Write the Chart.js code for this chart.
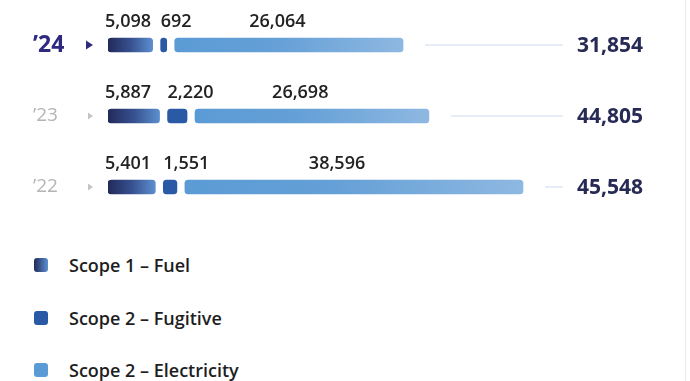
<!DOCTYPE html>
<html>
<head>
<meta charset="utf-8">
<script src="https://cdn.jsdelivr.net/npm/chart.js@4.4.1/dist/chart.umd.min.js"></script>
<style>
	html, body { margin: 0; padding: 0; background: #fff; }
	.wrap { position: relative; width: 685px; height: 381px; border-right: 1px solid #ececec; }
	.chart-box { position: relative; width: 685px; height: 235px; }
	.tc-chart-js-legend { position: absolute; left: 34px; top: 258px; margin: 0; padding: 0; list-style: none;
		font-family: "Open Sans", sans-serif; font-weight: 600; font-size: 18px; color: #1e1e1e; }
	.tc-chart-js-legend li { display: flex; align-items: center; height: 14px; margin-bottom: 38.5px; }
	.tc-chart-js-legend li span { display: inline-block; width: 14px; height: 14px; border-radius: 3px; margin-right: 21px; }
</style>
</head>
<body>
<div class="wrap">
	<div class="chart-box"><canvas id="barChart"></canvas></div>
	<ul class="tc-chart-js-legend" id="barLegend"></ul>
</div>
<script>
var years = ["\u201924", "\u201923", "\u201922"];
var fuel = [5098, 5887, 5401];
var fugitive = [692, 2220, 1551];
var electricity = [26064, 26698, 38596];
var totals = [31854, 44805, 45548];
var seriesNames = ["Scope 1 \u2013 Fuel", "Scope 2 \u2013 Fugitive", "Scope 2 \u2013 Electricity"];

var GAP = 8;
var FONT = '"Open Sans", sans-serif';

var Charts = function () {
	"use strict";

	// pixel span of one stacked segment, including the gap offset
	var segSpan = function (chart, d, i) {
		var x = chart.scales.x;
		var start = 0;
		for (var k = 0; k < d; k++) {
			start += chart.data.datasets[k].data[i];
		}
		var end = start + chart.data.datasets[d].data[i];
		return [x.getPixelForValue(start) + d * GAP, x.getPixelForValue(end) + d * GAP];
	};

	var fuelFill = function (ctx) {
		var chart = ctx.chart;
		if (!chart.chartArea || ctx.dataIndex === undefined) return "#3a5590";
		var s = segSpan(chart, ctx.datasetIndex, ctx.dataIndex);
		var g = chart.ctx.createLinearGradient(s[0], 0, s[1], 0);
		g.addColorStop(0, "#222a5a");
		g.addColorStop(0.5, "#37508f");
		g.addColorStop(1, "#5c8fcf");
		return g;
	};

	var electricityFill = function (ctx) {
		var chart = ctx.chart;
		if (!chart.chartArea || ctx.dataIndex === undefined) return "#5b9bd5";
		var s = segSpan(chart, ctx.datasetIndex, ctx.dataIndex);
		var g = chart.ctx.createLinearGradient(s[0], 0, s[1], 0);
		g.addColorStop(0, "#5b9bd5");
		g.addColorStop(0.45, "#65a0d7");
		g.addColorStop(1, "#8eb8e1");
		return g;
	};

	// push each series right so the segments sit apart
	var segmentGap = {
		id: "segmentGap",
		afterDatasetsUpdate: function (chart) {
			chart.data.datasets.forEach(function (ds, d) {
				chart.getDatasetMeta(d).data.forEach(function (bar) {
					bar.x += d * GAP;
					bar.base += d * GAP;
				});
			});
		}
	};

	var rowDecor = {
		id: "rowDecor",
		afterDatasetsDraw: function (chart) {
			var c = chart.ctx;
			var area = chart.chartArea;
			var metas = [0, 1, 2].map(function (d) { return chart.getDatasetMeta(d); });
			c.save();
			years.forEach(function (y, i) {
				var cy = metas[0].data[i].y;

				// small marker triangle beside the year
				c.beginPath();
				if (i === 0) {
					c.fillStyle = "#2e2a80";
					c.moveTo(area.left - 22, cy - 4.5);
					c.lineTo(area.left - 22, cy + 4.5);
					c.lineTo(area.left - 15, cy);
				} else {
					c.fillStyle = "#c4c4c4";
					c.moveTo(area.left - 20, cy - 3.5);
					c.lineTo(area.left - 20, cy + 3.5);
					c.lineTo(area.left - 15, cy);
				}
				c.closePath();
				c.fill();

				// value labels above each segment
				c.font = "600 18px " + FONT;
				c.fillStyle = "#222222";
				c.textBaseline = "middle";
				metas.forEach(function (meta, d) {
					var bar = meta.data[i];
					var val = chart.data.datasets[d].data[i].toLocaleString("en-US");
					if (d < 2) {
						c.textAlign = "left";
						c.fillText(val, bar.base - (d === 0 ? 3 : 0), cy - 23);
					} else {
						c.textAlign = "center";
						c.fillText(val, bar.base + (bar.x - bar.base) * 0.45, cy - 23);
					}
				});

				// leader line and total
				var endX = metas[2].data[i].x;
				c.strokeStyle = "#dfe7f5";
				c.lineWidth = 1.5;
				c.beginPath();
				c.moveTo(endX + 22, cy);
				c.lineTo(area.right + 17, cy);
				c.stroke();

				c.font = "bold 21px " + FONT;
				c.fillStyle = "#262a55";
				c.textAlign = "left";
				c.fillText(totals[i].toLocaleString("en-US"), area.right + 31, cy + 1);
			});
			c.restore();
		}
	};

	var barChartHandler = function () {
		var data = {
			labels: years,
			datasets: [{
				label: seriesNames[0],
				data: fuel,
				backgroundColor: fuelFill
			}, {
				label: seriesNames[1],
				data: fugitive,
				backgroundColor: "#2a5aa6"
			}, {
				label: seriesNames[2],
				data: electricity,
				backgroundColor: electricityFill
			}]
		};

		var options = {
			indexAxis: "y",
			maintainAspectRatio: false,
			responsive: true,
			animation: false,
			layout: {
				padding: { left: 33, right: 139, top: 9.5, bottom: 12.5 }
			},
			datasets: {
				bar: {
					barThickness: 14,
					borderRadius: { topLeft: 3.5, topRight: 3.5, bottomLeft: 3.5, bottomRight: 3.5 },
					borderSkipped: false
				}
			},
			plugins: {
				legend: { display: false },
				tooltip: { enabled: false }
			},
			scales: {
				x: {
					stacked: true,
					display: false,
					min: 0,
					max: 50000
				},
				y: {
					stacked: true,
					grid: { display: false },
					border: { display: false },
					afterFit: function (scale) {
						scale.width = 75;
						scale.paddingTop = 0;
						scale.paddingBottom = 0;
					},
					ticks: {
						crossAlign: "far",
						color: function (ctx) {
							return ctx.index === 0 ? "#2e2a80" : "#b4b4b4";
						},
						font: function (ctx) {
							return ctx.index === 0
								? { family: FONT, size: 23, weight: "bold" }
								: { family: FONT, size: 19, weight: "normal" };
						}
					}
				}
			}
		};

		var ctx = document.getElementById("barChart");
		var myChart = new Chart(ctx, {
			type: "bar",
			data: data,
			options: options,
			plugins: [segmentGap, rowDecor]
		});

		var swatches = [
			"linear-gradient(90deg, #222a5a, #5c8fcf)",
			"#2a5aa6",
			"#5b9bd5"
		];
		var legendTemplate = "";
		for (var i = 0; i < myChart.data.datasets.length; i++) {
			legendTemplate = legendTemplate + '<li><span style="background:' + swatches[i] + '"></span>' + myChart.data.datasets[i].label + '</li>';
		}
		document.getElementById("barLegend").innerHTML = legendTemplate;
	};

	return {
		init: function () {
			barChartHandler();
		}
	};
}();

Charts.init();
</script>
</body>
</html>
